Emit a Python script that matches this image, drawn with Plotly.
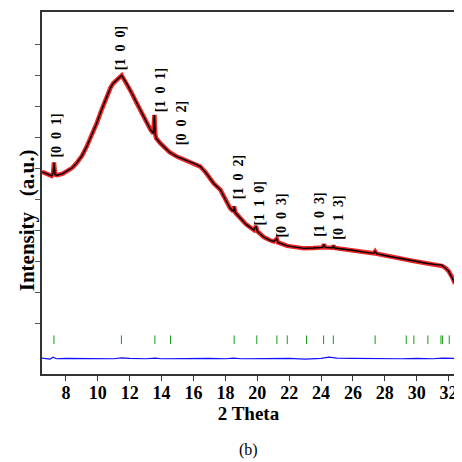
import plotly.graph_objects as go

# Observed / calculated profile (2 theta, intensity a.u.)
two_theta = [6.5, 6.8, 7.1, 7.2, 7.25, 7.32, 7.45, 7.8, 8.05, 8.4, 8.67, 9.0, 9.3, 9.6, 9.93,
             10.25, 10.56, 10.8, 10.97, 11.2, 11.35, 11.45, 11.5, 11.6, 11.8, 12.1, 12.45,
             12.75, 13.07, 13.3, 13.48, 13.52, 13.55, 13.6, 13.66, 13.9, 14.12, 14.5, 14.96,
             15.4, 15.8, 16.1, 16.43, 16.8, 17.26, 17.69, 18.0, 18.3, 18.5, 18.55, 18.62,
             18.94, 19.3, 19.78, 19.92, 20.0, 20.41, 20.8, 21.04, 21.22, 21.3, 21.88, 22.4,
             22.93, 23.5, 24.1, 24.18, 24.26, 24.72, 24.78, 24.85, 25.4, 26.07, 26.7, 27.3,
             27.39, 27.48, 28.0, 28.8, 29.7, 30.6, 31.3, 31.55, 31.62, 31.8, 32.0, 32.2, 32.4]
intensity = [6.89, 6.82, 6.76, 6.85, 7.19, 6.80, 6.78, 6.83, 6.90, 7.02, 7.17, 7.40, 7.70, 8.05,
             8.45, 8.90, 9.31, 9.60, 9.74, 9.85, 9.89, 9.95, 9.99, 9.90, 9.74, 9.45, 9.09,
             8.78, 8.45, 8.25, 8.13, 8.40, 8.72, 8.10, 7.97, 7.82, 7.70, 7.52, 7.38, 7.29,
             7.22, 7.15, 7.06, 6.85, 6.52, 6.31, 6.00, 5.72, 5.62, 5.78, 5.58, 5.40, 5.20,
             5.02, 5.15, 4.98, 4.79, 4.69, 4.65, 4.74, 4.62, 4.51, 4.46, 4.43, 4.44, 4.46,
             4.56, 4.46, 4.45, 4.52, 4.44, 4.41, 4.36, 4.31, 4.27, 4.33, 4.26, 4.20, 4.12,
             4.03, 3.95, 3.90, 3.90, 3.86, 3.80, 3.70, 3.52, 3.30]

# Difference curve
diff_theta = [6.5, 7.0, 7.2, 7.4, 8.0, 9.0, 10.0, 11.0, 11.5, 12.0, 13.0, 13.6, 14.0, 15.0,
              16.0, 17.0, 18.0, 18.5, 19.0, 20.0, 21.0, 22.0, 23.0, 24.0, 24.5, 25.0, 26.0,
              27.0, 28.0, 29.0, 30.0, 31.0, 31.6, 32.4]
diff_vals = [0.90, 0.87, 0.93, 0.88, 0.89, 0.88, 0.89, 0.88, 0.91, 0.89, 0.88, 0.90, 0.88,
             0.89, 0.88, 0.89, 0.88, 0.90, 0.88, 0.89, 0.88, 0.89, 0.87, 0.89, 0.93, 0.90,
             0.89, 0.88, 0.89, 0.88, 0.89, 0.88, 0.90, 0.89]

# Bragg reflection positions
bragg = [7.25, 11.48, 13.58, 14.56, 18.55, 19.97, 21.23, 21.88, 23.09, 24.16, 24.77, 27.39,
         29.34, 29.82, 30.70, 31.52, 31.62, 32.04]
bragg_level = 1.49

# Peak labels
hkl_labels = ["[0 0 1]", "[1 0 0]", "[1 0 1]", "[0 0 2]", "[1 0 2]", "[1 1 0]", "[0 0 3]",
              "[1 0 3]", "[0 1 3]"]
label_x = [7.43, 11.40, 13.91, 15.23, 18.82, 20.14, 21.46, 23.85, 25.11]
label_y = [8.05, 10.87, 9.52, 8.46, 6.73, 5.86, 5.47, 5.50, 5.41]

x_ticks = [8, 10, 12, 14, 16, 18, 20, 22, 24, 26, 28, 30, 32]
y_ticks = [2, 3, 4, 5, 6, 7, 8, 9, 10, 11]

SERIF = "Liberation Serif"
NB = "\u00a0"

fig = go.Figure()
fig.add_trace(go.Scatter(x=two_theta, y=intensity, mode="lines",
                         line=dict(color="rgba(230,0,0,0.85)", width=4.5)))
fig.add_trace(go.Scatter(x=two_theta, y=intensity, mode="lines",
                         line=dict(color="black", width=1.4)))
fig.add_trace(go.Scatter(x=diff_theta, y=diff_vals, mode="lines",
                         line=dict(color="#1010ff", width=1.2)))
bx, by = [], []
for b in bragg:
    bx += [b, b, None]
    by += [bragg_level - 0.14, bragg_level + 0.14, None]
fig.add_trace(go.Scatter(x=bx, y=by, mode="lines", line=dict(color="#1a9a1a", width=1)))

for t, lx, ly in zip(hkl_labels, label_x, label_y):
    txt = t.replace(" ", NB * 2)
    fig.add_annotation(x=lx, y=ly, text="<b>" + txt + "</b>", textangle=-90, showarrow=False,
                       font=dict(family=SERIF, size=14, color="black"))

# y-axis title (placed as annotation to match the reference position)
fig.add_annotation(x=-0.036, y=0.425, xref="paper", yref="paper",
                   text="<b>Intensity" + NB * 3 + "(a.u.)</b>", textangle=-90, showarrow=False,
                   xanchor="center", yanchor="middle",
                   font=dict(family=SERIF, size=21, color="black"))

fig.add_annotation(x=0.5, y=-0.21, xref="paper", yref="paper", text="(b)", showarrow=False,
                   xanchor="center", yanchor="middle",
                   font=dict(family=SERIF, size=16, color="black"))

fig.update_layout(
    width=454, height=454, showlegend=False,
    margin=dict(l=34, r=7, t=4, b=88),
    paper_bgcolor="white", plot_bgcolor="white",
    xaxis=dict(range=[6.5, 32.4], tickvals=x_ticks, ticks="outside", ticklen=5,
               tickcolor="#333", showgrid=False, zeroline=False, automargin=False,
               showline=True, linecolor="#333", linewidth=1.5, mirror=True,
               ticklabelstandoff=-3,
               tickfont=dict(family=SERIF, size=18, color="black", weight="bold"),
               title=dict(text="<b>2 Theta</b>", standoff=0,
                          font=dict(family=SERIF, size=19, color="black"))),
    yaxis=dict(range=[0.39, 12.03], tickvals=y_ticks, showticklabels=False,
               ticks="outside", ticklen=5, tickcolor="#555", showgrid=False, zeroline=False,
               automargin=False,
               showline=True, linecolor="#333", linewidth=1.5, mirror=True),
)

fig.write_html("out.html")
